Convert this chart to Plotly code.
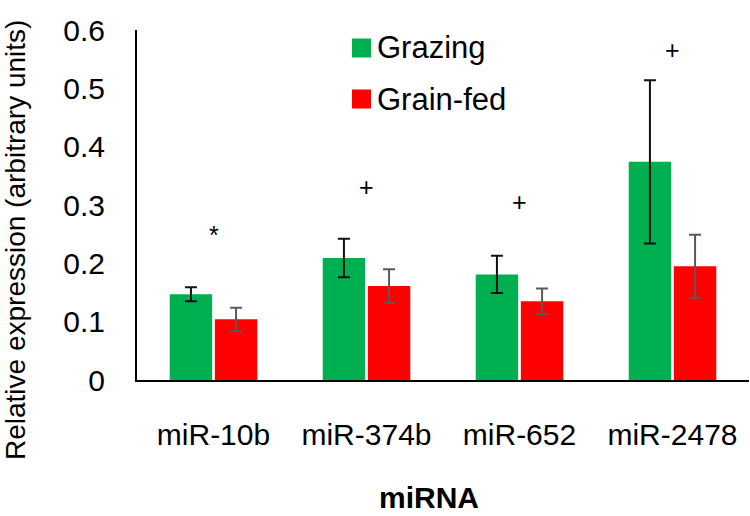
import plotly.graph_objects as go

categories = ["miR-10b", "miR-374b", "miR-652", "miR-2478"]
grazing = [0.147, 0.209, 0.181, 0.374]
grazing_err = [0.012, 0.033, 0.032, 0.140]
grain_fed = [0.104, 0.161, 0.135, 0.195]
grain_fed_err = [0.020, 0.029, 0.022, 0.054]
sig_marks = ["*", "+", "+", "+"]
sig_y = [0.248, 0.331, 0.305, 0.566]
series_names = ["Grazing", "Grain-fed"]
y_ticks = [0, 0.1, 0.2, 0.3, 0.4, 0.5, 0.6]
y_tick_labels = ["0", "0.1", "0.2", "0.3", "0.4", "0.5", "0.6"]

GREEN = "#00B050"
RED = "#FF0000"
FONT = "Liberation Sans, Arial, sans-serif"
FS = 30

fig = go.Figure()
fig.add_trace(go.Bar(
    x=categories, y=grazing, name=series_names[0], marker=dict(color=GREEN, line_width=0),
    error_y=dict(type="data", array=grazing_err, color="#111111", thickness=2, width=6),
    showlegend=False))
fig.add_trace(go.Bar(
    x=categories, y=grain_fed, name=series_names[1], marker=dict(color=RED, line_width=0),
    error_y=dict(type="data", array=grain_fed_err, color="#595959", thickness=2, width=6),
    showlegend=False))

# significance marks
for c, m, yv in zip(categories, sig_marks, sig_y):
    fig.add_annotation(x=c, y=yv, text=m, showarrow=False, xref="x", yref="y",
                       font=dict(family=FONT, size=25, color="#000000"))

W, H = 750, 516
L, R, T, B = 137, 1, 30, 136
pw, ph = W - L - R, H - T - B


def px_x(p):
    return (p - L) / pw


def px_y(p):
    return (H - B - p) / ph


# legend (manual)
legend_rows = [(series_names[0], GREEN, 48), (series_names[1], RED, 99)]
for name, col, yc in legend_rows:
    fig.add_shape(type="rect", xref="paper", yref="paper",
                  x0=px_x(352), x1=px_x(371), y0=px_y(yc + 9.5), y1=px_y(yc - 9.5),
                  fillcolor=col, line_width=0)
    fig.add_annotation(x=px_x(375), y=px_y(yc), xref="paper", yref="paper", text=name,
                       showarrow=False, xanchor="left", yanchor="middle",
                       font=dict(family=FONT, size=31, color="#000000"))

# axis titles
fig.add_annotation(x=px_x(15), y=px_y(240), xref="paper", yref="paper",
                   text="Relative expression (arbitrary units)", textangle=-90,
                   showarrow=False, xanchor="center", yanchor="middle",
                   font=dict(family=FONT, size=28, color="#000000"))
fig.add_annotation(x=px_x(429), y=px_y(497), xref="paper", yref="paper",
                   text="<b>miRNA</b>", showarrow=False, xanchor="center", yanchor="middle",
                   font=dict(family=FONT, size=FS, color="#000000"))

fig.update_layout(
    width=W, height=H,
    margin=dict(l=L, r=R, t=T, b=B, pad=0, autoexpand=False),
    paper_bgcolor="white", plot_bgcolor="white",
    barmode="group", bargap=0.41, bargroupgap=0.06,
    font=dict(family=FONT, size=FS, color="#000000"),
    xaxis=dict(showline=True, linecolor="#000000", linewidth=2, ticks="",
               showgrid=False, zeroline=False, ticklabelstandoff=27, automargin=False,
               tickfont=dict(family=FONT, size=FS)),
    yaxis=dict(range=[0, 0.6], tickvals=y_ticks, ticktext=y_tick_labels,
               showline=True, linecolor="#000000", linewidth=2, ticks="",
               showgrid=False, zeroline=False, ticklabelstandoff=24, automargin=False,
               tickfont=dict(family=FONT, size=FS)),
)

# remove the browser's default 8px body margin so the figure sits at the page corner
fig.write_html("out.html", config={"displayModeBar": False},
               post_script="document.body.style.margin='0';")
